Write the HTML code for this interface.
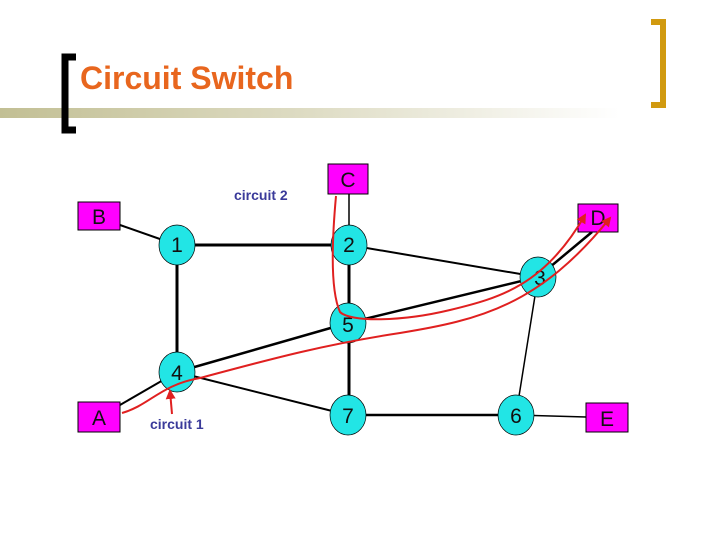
<!DOCTYPE html>
<html><head><style>
body{margin:0;width:720px;height:540px;background:#fff;overflow:hidden;font-family:"Liberation Sans",sans-serif}
</style></head><body>
<svg width="720" height="540" viewBox="0 0 720 540" xmlns="http://www.w3.org/2000/svg">
<defs>
<linearGradient id="g" x1="0" x2="1"><stop offset="0" stop-color="#c2bf94"/><stop offset="0.5" stop-color="#dedcc4"/><stop offset="1" stop-color="#fff"/></linearGradient>
<marker id="ar" viewBox="0 0 10 10" refX="8" refY="5" markerWidth="5" markerHeight="5" orient="auto"><path d="M0,0 L10,5 L0,10 z" fill="#e02020"/></marker>
</defs>
<rect x="0" y="108" width="620" height="10" fill="url(#g)"/>
<path d="M76,57 H65 V130 H76" fill="none" stroke="#000" stroke-width="7"/>
<path d="M651,22 H663 V105 H651" fill="none" stroke="#d19a10" stroke-width="6"/>
<text x="80" y="89" font-size="32" fill="#e8661e" font-weight="bold">Circuit Switch</text>
<g stroke="#000" fill="none">
<line x1="120" y1="225" x2="177" y2="245" stroke-width="2"/>
<line x1="177" y1="245" x2="349" y2="245" stroke-width="3"/>
<line x1="177" y1="245" x2="177" y2="372" stroke-width="3"/>
<line x1="349" y1="194" x2="349" y2="245" stroke-width="1.5"/>
<line x1="349" y1="245" x2="349" y2="415" stroke-width="3"/>
<line x1="349" y1="245" x2="538" y2="277" stroke-width="2"/>
<line x1="348" y1="323" x2="538" y2="277" stroke-width="2.5"/>
<line x1="177" y1="372" x2="348" y2="323" stroke-width="2.5"/>
<line x1="177" y1="372" x2="348" y2="415" stroke-width="2"/>
<line x1="120" y1="405" x2="177" y2="372" stroke-width="2"/>
<line x1="348" y1="415" x2="516" y2="415" stroke-width="2.5"/>
<line x1="538" y1="277" x2="516" y2="415" stroke-width="1.5"/>
<line x1="516" y1="415" x2="586" y2="417" stroke-width="1.5"/>
<line x1="538" y1="277" x2="592" y2="232" stroke-width="2.5"/>
</g>
<g fill="#ff00ff" stroke="#000" stroke-width="1">
<rect x="78" y="202" width="42" height="28"/>
<rect x="328" y="164" width="40" height="30"/>
<rect x="578" y="204" width="40" height="28"/>
<rect x="78" y="402" width="42" height="30"/>
<rect x="586" y="403" width="42" height="29"/>
</g>
<g fill="#22e5e5" stroke="#000" stroke-width="0.7">
<ellipse cx="177" cy="245" rx="18" ry="20"/>
<ellipse cx="349" cy="245" rx="18" ry="20"/>
<ellipse cx="538" cy="277" rx="18" ry="20"/>
<ellipse cx="348" cy="323" rx="18" ry="20"/>
<ellipse cx="177" cy="372" rx="18" ry="20"/>
<ellipse cx="348" cy="415" rx="18" ry="20"/>
<ellipse cx="516" cy="415" rx="18" ry="20"/>
</g>
<g font-size="21" fill="#111" text-anchor="middle">
<text x="99" y="224">B</text><text x="348" y="187">C</text><text x="598" y="225">D</text>
<text x="99" y="425">A</text><text x="607" y="426">E</text>
<text x="177" y="252">1</text><text x="349" y="252">2</text><text x="540" y="285">3</text>
<text x="348" y="332">5</text><text x="177" y="380">4</text><text x="348" y="423">7</text><text x="516" y="423">6</text>
</g>
<g fill="none" stroke="#e02020" stroke-width="2">
<path d="M336,196 C332,240 330,290 340,312 C350,322 400,322 450,310 C500,298 545,285 585,215" marker-end="url(#ar)"/>
<path d="M122,413 C150,405 160,385 200,378 C260,362 320,345 400,333 C480,320 540,305 610,218" marker-end="url(#ar)"/>
<path d="M172,414 L170,391" marker-end="url(#ar)"/>
</g>
<text x="234" y="200" font-size="14" font-weight="bold" fill="#3a3a9a">circuit 2</text>
<text x="150" y="429" font-size="14" font-weight="bold" fill="#3a3a9a">circuit 1</text>
</svg>
</body></html>
